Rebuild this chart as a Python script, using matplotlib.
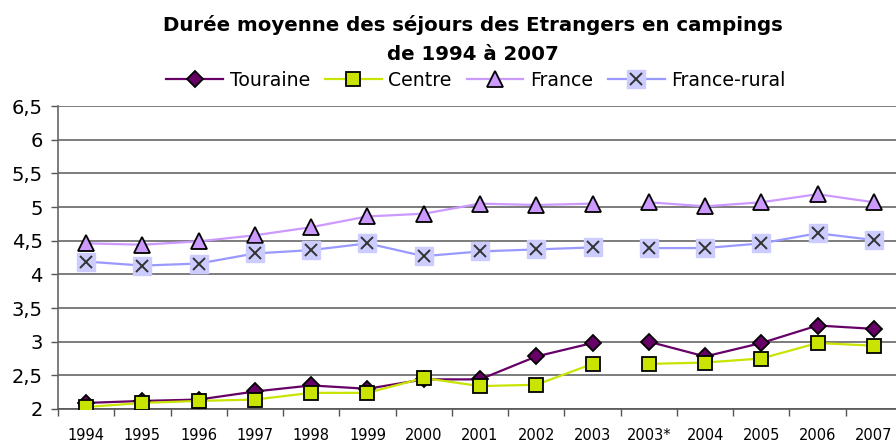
import matplotlib
matplotlib.use("Agg")
import matplotlib.pyplot as plt
from matplotlib.legend_handler import HandlerTuple

# data
years = ['1994', '1995', '1996', '1997', '1998', '1999', '2000', '2001',
         '2002', '2003', '2003*', '2004', '2005', '2006', '2007']
touraine = [2.09, 2.12, 2.14, 2.26, 2.35, 2.30, 2.44, 2.44,
            2.78, 2.98, 3.00, 2.78, 2.98, 3.24, 3.19]
centre = [2.03, 2.09, 2.12, 2.14, 2.24, 2.24, 2.46, 2.34,
          2.36, 2.67, 2.67, 2.69, 2.75, 2.98, 2.94]
france = [4.46, 4.44, 4.49, 4.58, 4.70, 4.86, 4.90, 5.05,
          5.03, 5.05, 5.07, 5.01, 5.07, 5.19, 5.07]
france_rural = [4.19, 4.13, 4.16, 4.31, 4.36, 4.46, 4.27, 4.34,
                4.37, 4.40, 4.39, 4.39, 4.46, 4.61, 4.51]
yticks = [2, 2.5, 3, 3.5, 4, 4.5, 5, 5.5, 6, 6.5]
ytick_labels = ['2', '2,5', '3', '3,5', '4', '4,5', '5', '5,5', '6', '6,5']

# the series break between 2003 and 2003*
brk = years.index('2003*')
x = list(range(len(years)))

fig = plt.figure(figsize=(8.96, 4.41), dpi=100)
W, H = 896, 441
ax = fig.add_axes([58 / W, (H - 409) / H, 844 / W, (409 - 106) / H])

def draw(vals, color, **mk):
    h = None
    for seg in (slice(0, brk), slice(brk, None)):
        h, = ax.plot(x[seg], vals[seg], color=color, lw=1.6, zorder=3,
                     markeredgecolor='black', markeredgewidth=1.3, **mk)
    return h

h_tour = draw(touraine, '#660066', marker='D', markersize=8.5,
              markerfacecolor='#660066')
h_cent = draw(centre, '#C8E400', marker='s', markersize=10,
              markerfacecolor='#C8E400')
h_fr = draw(france, '#CC99FF', marker='^', markersize=11.5,
            markerfacecolor='#CC99FF')

# France-rural: light square background with a dark cross
h_rur = None
for seg in (slice(0, brk), slice(brk, None)):
    h_rur, = ax.plot(x[seg], france_rural[seg], color='#9999FF', lw=1.6,
                     marker='s', markersize=13, markerfacecolor='#CCCCFF',
                     markeredgecolor='#CCCCFF', zorder=3)
h_x, = ax.plot(x, france_rural, ls='none', marker='x', markersize=9,
               markeredgecolor='#333333', markeredgewidth=1.4, zorder=4)

ax.set_xlim(-0.5, len(years) - 0.5)
ax.set_ylim(2, 6.5)
ax.set_yticks(yticks)
ax.set_yticklabels(ytick_labels, fontsize=14)
ax.tick_params(axis='y', direction='out', length=5, width=1, color='#555555', pad=6)

ax.set_xticks([i - 0.5 for i in range(len(years) + 1)])
ax.set_xticklabels([])
ax.set_xticks(x, minor=True)
ax.set_xticklabels(years, minor=True, fontsize=10.5)
ax.tick_params(axis='x', which='major', direction='out', length=5, width=1, color='#555555')
ax.tick_params(axis='x', which='minor', length=0, pad=14)

ax.grid(axis='y', color='#666666', lw=1.2, zorder=1)
for s in ('top', 'right'):
    ax.spines[s].set_visible(False)
ax.spines['left'].set_color('#666666')
ax.spines['bottom'].set_color('#555555')
ax.spines['left'].set_linewidth(1.2)
ax.spines['bottom'].set_linewidth(1.2)

fig.text(473 / W, 1 - 25 / H, 'Durée moyenne des séjours des Etrangers en campings',
         ha='center', va='center', fontsize=14.2, fontweight='bold')
fig.text(473 / W, 1 - 54 / H, 'de 1994 à 2007',
         ha='center', va='center', fontsize=14.2, fontweight='bold')

fig.legend([h_tour, h_cent, h_fr, (h_rur, h_x)],
           ['Touraine', 'Centre', 'France', 'France-rural'],
           handler_map={tuple: HandlerTuple(ndivide=1)},
           loc='center', bbox_to_anchor=(476 / W, 1 - 80 / H), ncol=4,
           frameon=False, fontsize=13.6, numpoints=1, handlelength=3.0,
           handletextpad=0.35, columnspacing=0.8, borderpad=0)

fig.savefig('out.png', dpi=100)
